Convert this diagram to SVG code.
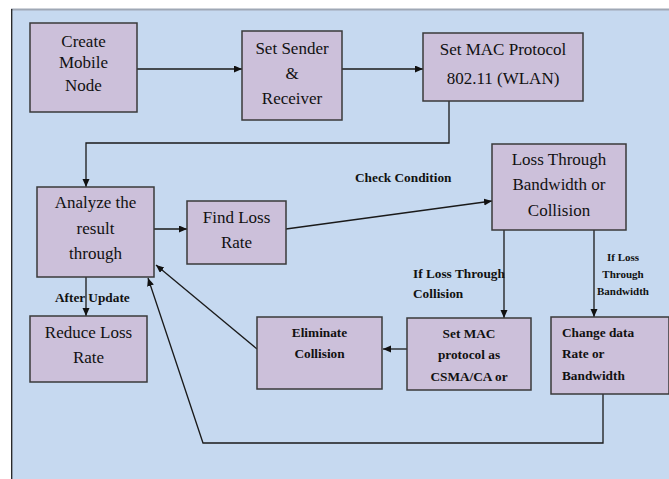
<svg xmlns="http://www.w3.org/2000/svg" width="669" height="479" viewBox="0 0 669 479">
  <defs>
    <marker id="arrow" markerUnits="userSpaceOnUse" markerWidth="9" markerHeight="8" refX="8" refY="3.5" orient="auto">
      <path d="M0,0 L8,3.5 L0,7 z" fill="#111"/>
    </marker>
    <style>
      .box { fill: #ccc0da; stroke: #3a3a3a; stroke-width: 1.5; }
      text { font-family: 'Liberation Serif', 'DejaVu Serif', serif; fill: #111; }
      .t { font-size: 17px; text-anchor: middle; }
      .tb { font-size: 13.3px; font-weight: bold; }
      .ts { font-size: 11px; font-weight: bold; text-anchor: middle; }
      .edge { fill: none; stroke: #1a1a1a; stroke-width: 1.3; }
    </style>
  </defs>

  <!-- page -->
  <rect x="0" y="0" width="669" height="479" fill="#ffffff"/>
  <rect x="11" y="9" width="658" height="470" fill="#c6d9f0"/>
  <line x1="11" y1="9.5" x2="669" y2="9.5" stroke="#9fa8b5" stroke-width="2"/>
  <line x1="11.7" y1="9" x2="11.7" y2="479" stroke="#222" stroke-width="1.3"/>

  <!-- connectors -->
  <g id="connectors">
    <path class="edge" d="M137,69 L242,69" marker-end="url(#arrow)"/>
    <path class="edge" d="M342,69 L423,69" marker-end="url(#arrow)"/>
    <path class="edge" d="M449,101 L449,143 L86,143 L86,187" marker-end="url(#arrow)"/>
    <path class="edge" d="M154,229 L187,229" marker-end="url(#arrow)"/>
    <path class="edge" d="M286,229 L492,201" marker-end="url(#arrow)"/>
    <path class="edge" d="M504,230 L504,318" marker-end="url(#arrow)"/>
    <path class="edge" d="M594,230 L594,317" marker-end="url(#arrow)"/>
    <path class="edge" d="M407,349 L383,349" marker-end="url(#arrow)" stroke-width="1.8" stroke="#333"/>
    <path class="edge" d="M603,394 L603,443 L203,443 L148,278" marker-end="url(#arrow)"/>
    <path class="edge" d="M257,349 L156,265" marker-end="url(#arrow)" stroke="#333"/>
    <path class="edge" d="M86,277 L86,316" marker-end="url(#arrow)"/>
    <text class="tb" x="355" y="181.5">Check Condition</text>
    <text class="tb" x="413" y="277.5">If Loss Through</text>
    <text class="tb" x="413" y="298">Collision</text>
    <text class="tb" x="55" y="301.5">After Update</text>
    <text class="ts" x="623" y="260.5">If Loss</text>
    <text class="ts" x="623" y="277.5">Through</text>
    <text class="ts" x="623" y="295">Bandwidth</text>
  </g>

  <g id="create-mobile-node">
    <rect class="box" x="30" y="23" width="107" height="89"/>
    <text class="t" x="83.5" y="46.5">Create</text>
    <text class="t" x="83.5" y="68">Mobile</text>
    <text class="t" x="83.5" y="90.5">Node</text>
  </g>

  <g id="set-sender-receiver">
    <rect class="box" x="242" y="31" width="100" height="89"/>
    <text class="t" x="292" y="54">Set Sender</text>
    <text class="t" x="292" y="78.5">&amp;</text>
    <text class="t" x="292" y="104">Receiver</text>
  </g>

  <g id="set-mac-protocol">
    <rect class="box" x="423" y="33" width="160" height="68"/>
    <text class="t" x="503" y="55" font-size="16">Set MAC Protocol</text>
    <text class="t" x="503" y="84" font-size="16">802.11 (WLAN)</text>
  </g>

  <g id="analyze-result">
    <rect class="box" x="37" y="187" width="117" height="90"/>
    <text class="t" x="95.5" y="207.5">Analyze the</text>
    <text class="t" x="95.5" y="234">result</text>
    <text class="t" x="95.5" y="259">through</text>
  </g>

  <g id="find-loss-rate">
    <rect class="box" x="187" y="201" width="99" height="63"/>
    <text class="t" x="236.5" y="222.5">Find Loss</text>
    <text class="t" x="236.5" y="248">Rate</text>
  </g>

  <g id="loss-through">
    <rect class="box" x="492" y="144" width="134" height="86"/>
    <text class="t" x="559" y="165">Loss Through</text>
    <text class="t" x="559" y="190">Bandwidth or</text>
    <text class="t" x="559" y="216">Collision</text>
  </g>

  <g id="reduce-loss-rate">
    <rect class="box" x="30" y="316" width="117" height="66"/>
    <text class="t" x="88.5" y="337.5">Reduce Loss</text>
    <text class="t" x="88.5" y="362.5">Rate</text>
  </g>

  <g id="eliminate-collision">
    <rect class="box" x="257" y="317" width="125" height="72"/>
    <text class="tb" x="319.5" y="336.5" text-anchor="middle">Eliminate</text>
    <text class="tb" x="319.5" y="358" text-anchor="middle">Collision</text>
  </g>

  <g id="set-mac-csma">
    <rect class="box" x="407" y="318" width="124" height="72"/>
    <text class="tb" x="469" y="338" text-anchor="middle">Set MAC</text>
    <text class="tb" x="469" y="359" text-anchor="middle">protocol as</text>
    <text class="tb" x="469" y="380.5" text-anchor="middle">CSMA/CA or</text>
  </g>

  <g id="change-data-rate">
    <rect class="box" x="551" y="317" width="118" height="77"/>
    <text class="tb" x="562" y="336.5">Change data</text>
    <text class="tb" x="562" y="358">Rate or</text>
    <text class="tb" x="562" y="380">Bandwidth</text>
  </g>
</svg>
